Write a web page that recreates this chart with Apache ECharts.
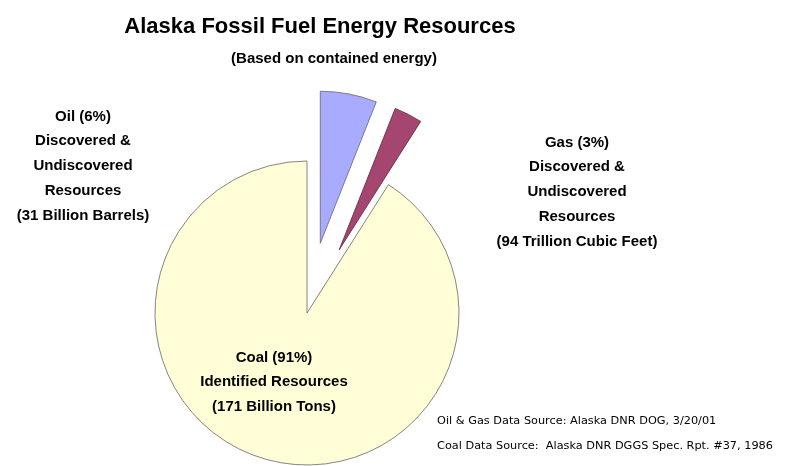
<!DOCTYPE html>
<html>
<head>
<meta charset="utf-8">
<script src="https://cdn.jsdelivr.net/npm/echarts@6/dist/echarts.min.js"></script>
<style>html,body{margin:0;padding:0;background:#fff}#c{width:804px;height:466px}</style>
</head>
<body>
<div id="c"></div>
<script>
const categories = ['Oil', 'Gas', 'Coal'];
const shares = [6, 3, 91];
const exploded = [true, true, false];
const sliceColors = ['#A8ABFF', '#A4466F', '#FFFED6'];
const labelLines = [
  ['Oil (6%)', 'Discovered &', 'Undiscovered', 'Resources', '(31 Billion Barrels)'],
  ['Gas (3%)', 'Discovered &', 'Undiscovered', 'Resources', '(94 Trillion Cubic Feet)'],
  ['Coal (91%)', 'Identified Resources', '(171 Billion Tons)']
];
const titleText = 'Alaska Fossil Fuel Energy Resources';
const subtitleText = '(Based on contained energy)';
const sourceLines = ['Oil & Gas Data Source: Alaska DNR DOG, 3/20/01', 'Coal Data Source:  Alaska DNR DGGS Spec. Rpt. #37, 1986'];

const chart = echarts.init(document.getElementById('c'), null, {renderer: 'canvas'});
const labelPos = [[83, 104], [577, 130], [274, 345]];
const labelFont = 'bold 15px "Liberation Sans", Arial, sans-serif';
const graphics = [];
labelLines.forEach((lines, i) => {
  graphics.push({
    type: 'text', z: 100, x: labelPos[i][0], y: labelPos[i][1],
    style: {text: lines.join('\n'), font: labelFont, fill: '#000', align: 'center', lineHeight: 24.8}
  });
});
graphics.push({
  type: 'text', z: 100, x: 437, y: 408,
  style: {text: sourceLines.join('\n'), font: '11.3px "DejaVu Sans", sans-serif', fill: '#000', lineHeight: 25.5}
});

chart.setOption({
  animation: false,
  backgroundColor: '#fff',
  title: [
    {text: titleText, left: 315, top: 11, textAlign: 'center',
     textStyle: {fontFamily: '"Liberation Sans", Arial', fontWeight: 'bold', fontSize: 22, color: '#000'}},
    {text: subtitleText, left: 329, top: 46, textAlign: 'center',
     textStyle: {fontFamily: '"Liberation Sans", Arial', fontWeight: 'bold', fontSize: 15, color: '#000'}}
  ],
  series: [{
    type: 'pie',
    center: [307, 313],
    radius: 152,
    startAngle: 90,
    clockwise: true,
    selectedMode: 'multiple',
    selectedOffset: 71,
    avoidLabelOverlap: false,
    label: {show: false},
    labelLine: {show: false},
    emphasis: {disabled: true},
    itemStyle: {borderColor: '#666', borderWidth: 0.8},
    data: categories.map((c, i) => ({
      name: c, value: shares[i], selected: exploded[i],
      itemStyle: {color: sliceColors[i], borderColor: i === 1 ? '#5a2438' : '#666'}
    }))
  }],
  graphic: graphics
});
</script>
</body>
</html>
